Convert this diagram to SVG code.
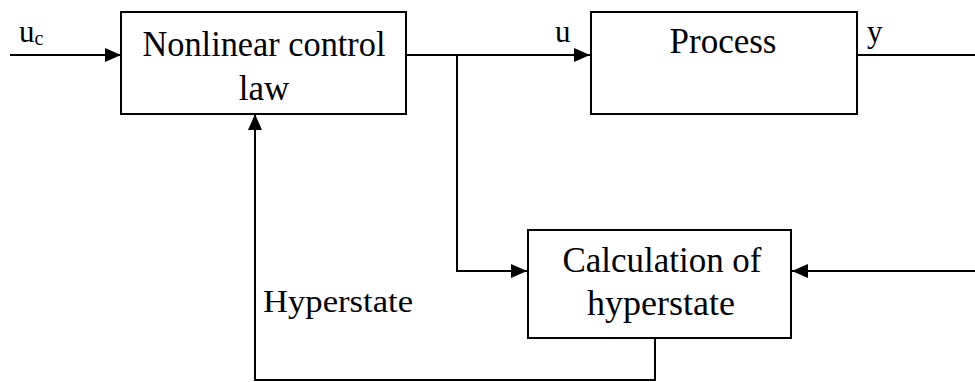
<svg xmlns="http://www.w3.org/2000/svg" width="975" height="382" viewBox="0 0 975 382">
<style>
.box{fill:#fff;stroke:#000;stroke-width:2}
.ln{fill:none;stroke:#000;stroke-width:2}
.t{font-family:"Liberation Serif","Times New Roman",serif;font-size:35px;fill:#000;text-anchor:middle}
.l{font-family:"Liberation Serif","Times New Roman",serif;font-size:31px;fill:#000}
</style>
<defs>
<marker id="ah" markerWidth="16" markerHeight="14" refX="16" refY="7" orient="auto" markerUnits="userSpaceOnUse">
<path d="M0,0 L16,7 L0,14 Z" fill="#000"/>
</marker>
</defs>
<rect width="975" height="382" fill="#fff"/>
<g id="connectors">
<line class="ln" x1="10" y1="55" x2="121" y2="55" marker-end="url(#ah)"/>
<line class="ln" x1="406" y1="55" x2="590" y2="55" marker-end="url(#ah)"/>
<polyline class="ln" points="457,55 457,271 527,271" marker-end="url(#ah)"/>
<line class="ln" x1="857" y1="55" x2="975" y2="55"/>
<line class="ln" x1="975" y1="271" x2="792" y2="271" marker-end="url(#ah)"/>
<polyline class="ln" points="655,338 655,380 255,380 255,114" marker-end="url(#ah)"/>
</g>
<g id="node-controller">
<rect class="box" x="121" y="12" width="285" height="102"/>
<text class="t" x="264" y="56" textLength="243" lengthAdjust="spacingAndGlyphs">Nonlinear control</text>
<text class="t" x="264" y="100">law</text>
</g>
<g id="node-process">
<rect class="box" x="591" y="12" width="266" height="102"/>
<text class="t" x="723" y="53" textLength="107" lengthAdjust="spacingAndGlyphs">Process</text>
</g>
<g id="node-calc">
<rect class="box" x="528" y="230" width="263" height="108"/>
<text class="t" x="662" y="272" textLength="199" lengthAdjust="spacingAndGlyphs">Calculation of</text>
<text class="t" x="661" y="315" textLength="148" lengthAdjust="spacingAndGlyphs">hyperstate</text>
</g>
<g id="labels">
<text class="l" x="19" y="42">u<tspan font-size="20" dy="3">c</tspan></text>
<text class="l" x="555" y="42">u</text>
<text class="l" x="867" y="42">y</text>
<text class="l" x="263" y="312" font-size="35" textLength="150" lengthAdjust="spacingAndGlyphs">Hyperstate</text>
</g>
</svg>
